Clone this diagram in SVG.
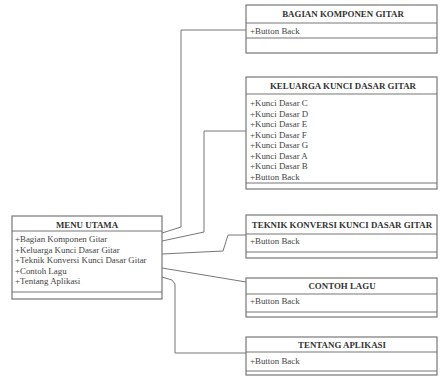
<svg xmlns="http://www.w3.org/2000/svg" width="441" height="376" viewBox="0 0 441 376">
<style>
.box{fill:#fff;stroke:#777;stroke-width:1.2}
.div{stroke:#777;stroke-width:1.2}
.hd{font-family:"Liberation Serif",serif;font-size:8.9px;font-weight:bold;fill:#333;text-anchor:middle}
.it{font-family:"Liberation Serif",serif;font-size:8.9px;fill:#444}
.con{fill:none;stroke:#777;stroke-width:1}
</style>
<rect width="441" height="376" fill="#fff"/>
<g id="connectors">
<path class="con" d="M162,233 L181,227 L181,30 L246,30"/>
<path class="con" d="M162,241 L204,232 L204,131 L246,131"/>
<path class="con" d="M162,254 L223,251 L228,235 L246,235"/>
<path class="con" d="M162,268 L246,282"/>
<path class="con" d="M162,277 L172,280 L175,284 L175,353 L246,353"/>
</g>
<g id="menu-utama">
<rect class="box" x="12" y="216" width="150" height="83"/>
<line class="div" x1="12" y1="231" x2="162" y2="231"/>
<line class="div" x1="12" y1="292" x2="162" y2="292"/>
<text class="hd" x="87" y="227.5">MENU UTAMA</text>
<text class="it" x="15" y="242">+Bagian Komponen Gitar</text>
<text class="it" x="15" y="252.5">+Keluarga Kunci Dasar Gitar</text>
<text class="it" x="15" y="263">+Teknik Konversi Kunci Dasar Gitar</text>
<text class="it" x="15" y="273.5">+Contoh Lagu</text>
<text class="it" x="15" y="284">+Tentang Aplikasi</text>
</g>
<g id="bagian-komponen">
<rect class="box" x="246" y="5" width="191" height="48"/>
<line class="div" x1="246" y1="23" x2="437" y2="23"/>
<line class="div" x1="246" y1="38" x2="437" y2="38"/>
<text class="hd" x="343" y="17">BAGIAN KOMPONEN GITAR</text>
<text class="it" x="250" y="34">+Button Back</text>
</g>
<g id="keluarga-kunci">
<rect class="box" x="246" y="77" width="191" height="112"/>
<line class="div" x1="246" y1="94" x2="437" y2="94"/>
<line class="div" x1="246" y1="183" x2="437" y2="183"/>
<text class="hd" x="343" y="89">KELUARGA KUNCI DASAR GITAR</text>
<text class="it" x="250" y="106">+Kunci Dasar C</text>
<text class="it" x="250" y="116.5">+Kunci Dasar D</text>
<text class="it" x="250" y="127">+Kunci Dasar E</text>
<text class="it" x="250" y="137.5">+Kunci Dasar F</text>
<text class="it" x="250" y="148">+Kunci Dasar G</text>
<text class="it" x="250" y="158.5">+Kunci Dasar A</text>
<text class="it" x="250" y="169">+Kunci Dasar B</text>
<text class="it" x="250" y="179.5">+Button Back</text>
</g>
<g id="teknik-konversi">
<rect class="box" x="246" y="215" width="191" height="43"/>
<line class="div" x1="246" y1="234" x2="437" y2="234"/>
<line class="div" x1="246" y1="252" x2="437" y2="252"/>
<text class="hd" x="342" y="227.5">TEKNIK KONVERSI KUNCI DASAR GITAR</text>
<text class="it" x="250" y="243.5">+Button Back</text>
</g>
<g id="contoh-lagu">
<rect class="box" x="246" y="278" width="191" height="39"/>
<line class="div" x1="246" y1="294" x2="437" y2="294"/>
<line class="div" x1="246" y1="312" x2="437" y2="312"/>
<text class="hd" x="342" y="289">CONTOH LAGU</text>
<text class="it" x="250" y="303.5">+Button Back</text>
</g>
<g id="tentang-aplikasi">
<rect class="box" x="246" y="337" width="191" height="38"/>
<line class="div" x1="246" y1="352" x2="437" y2="352"/>
<line class="div" x1="246" y1="371" x2="437" y2="371"/>
<text class="hd" x="342" y="347.5">TENTANG APLIKASI</text>
<text class="it" x="250" y="363.5">+Button Back</text>
</g>
</svg>
